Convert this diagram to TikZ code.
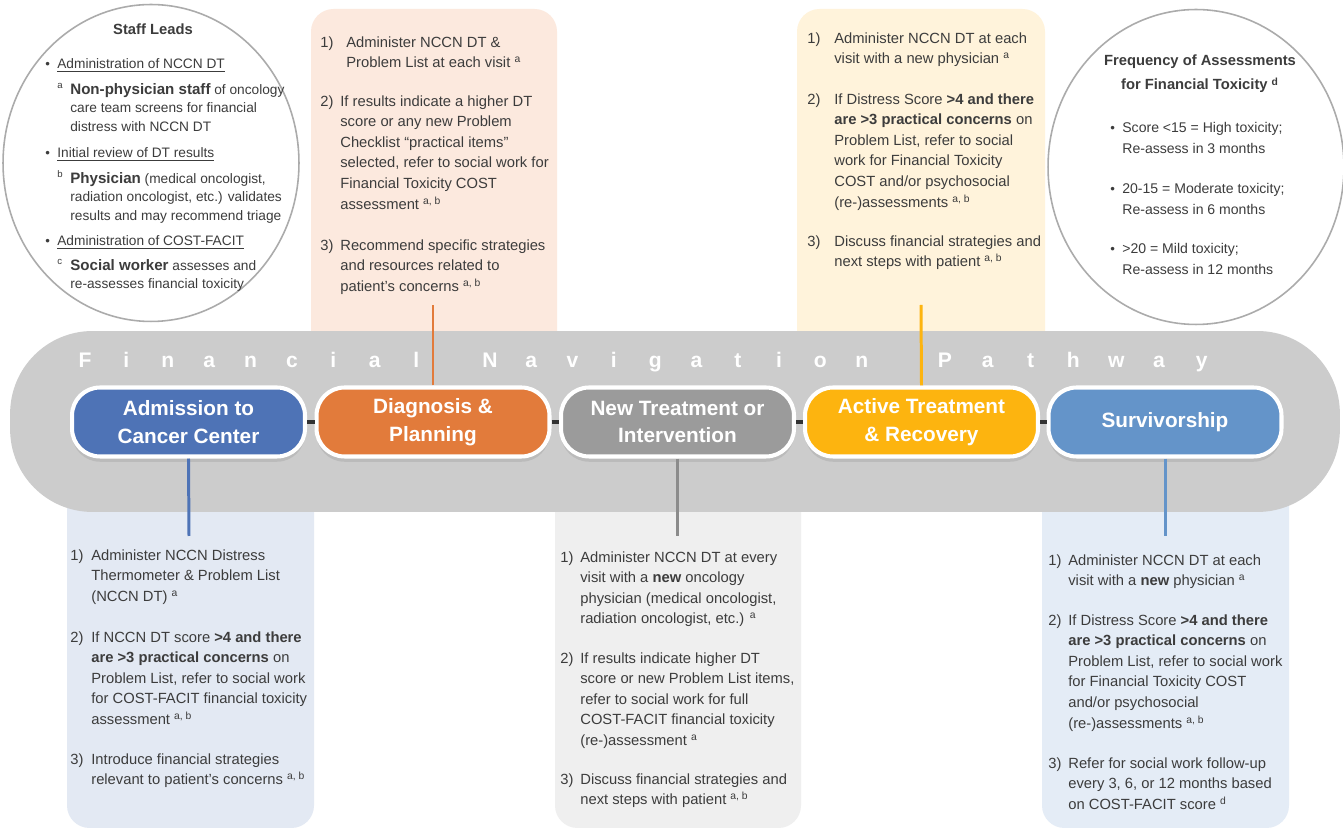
\documentclass[tikz,border=0pt]{standalone}
\usepackage{fontspec}
\setmainfont{Liberation Sans}
\usetikzlibrary{shapes.geometric,shadows}
\definecolor{txtc}{HTML}{3C3C3C}
\definecolor{bandc}{HTML}{CCCCCC}
\definecolor{admc}{HTML}{4E73B6}
\definecolor{diac}{HTML}{E27B3B}
\definecolor{newc}{HTML}{9B9B9B}
\definecolor{actc}{HTML}{FDB40F}
\definecolor{surc}{HTML}{6494C9}
\definecolor{diaf}{HTML}{FCE9DE}
\definecolor{actf}{HTML}{FFF3DB}
\definecolor{admf}{HTML}{E3E9F3}
\definecolor{newf}{HTML}{EFEFEF}
\definecolor{surf}{HTML}{E4ECF6}
\definecolor{ringc}{HTML}{ABABAB}
\definecolor{linkc}{HTML}{333333}
\begin{document}
\begin{tikzpicture}[x=0.02cm,y=-0.02cm,
  pbase/.style={anchor=north west, inner sep=0pt, align=left, text=txtc, execute at begin node=\strut},
  pbox/.style={pbase, font=\fontsize{8.4}{11.7}\selectfont, yshift=6.7pt},
  sbox/.style={pbase, font=\fontsize{7.8}{10.5}\selectfont, yshift=6.25pt},
  rbox/.style={pbase, font=\fontsize{8}{11.4}\selectfont, yshift=6.0pt},
  numb/.style={anchor=base west, inner sep=0pt, text=txtc, font=\fontsize{8.4}{11.7}\selectfont},
  sline/.style={anchor=base west, inner sep=0pt, text=txtc, font=\fontsize{7.8}{10.5}\selectfont},
  rline/.style={anchor=base west, inner sep=0pt, text=txtc, font=\fontsize{8}{11.4}\selectfont},
  bul/.style={anchor=base west, inner sep=0pt, text=txtc, font=\fontsize{7.5}{9}\selectfont},
  head/.style={anchor=base, inner sep=0pt, text=txtc, font=\fontsize{8.4}{11}\selectfont\bfseries},
  ring/.style={ellipse, draw=ringc, line width=0.9pt, fill=white, inner sep=0pt},
  stage/.style={rectangle, rounded corners=0.56cm, draw=white, line width=2.3pt,
    minimum width=4.66cm, minimum height=1.38cm, inner sep=0pt, align=center, text=white,
    font=\fontsize{11.8}{15.9}\selectfont\bfseries,
    drop shadow={shadow xshift=0pt, shadow yshift=-3pt, opacity=0.22}},
  link/.style={draw=linkc, line width=2.2pt},
  vline/.style={line width=1.7pt},
  ttl/.style={anchor=base, inner sep=0pt, text=white, font=\fontsize{12}{14}\selectfont\bfseries},
  box/.style={rounded corners=0.45cm}
]
\useasboundingbox (0,0) rectangle (1343,830);
\fill[white] (0,0) rectangle (1343,830);

% background panels
\fill[box, diaf] (311,9) rectangle (557,420);
\fill[box, actf] (797,9) rectangle (1045,420);
\fill[box, admf] (67,430) rectangle (314,828);
\fill[box, newf] (555,430) rectangle (801,828);
\fill[box, surf] (1042,430) rectangle (1289,828);

% band
\node[fill=bandc, rounded corners=1.65cm, minimum width=26.6cm, minimum height=3.62cm, inner sep=0pt] (band) at (675,421.5) {};

% title letters
\foreach \l [count=\k from 0] in {F,i,n,a,n,c,i,a,l}
  \node[ttl] (fa\k) at ({85+41.4*\k},368) {\l};
\foreach \l [count=\k from 0] in {N,a,v,i,g,a,t,i,o,n}
  \node[ttl] (na\k) at ({490+41.3*\k},368) {\l};
\foreach \l [count=\k from 0] in {P,a,t,h,w,a,y}
  \node[ttl] (pa\k) at ({945+42.8*\k},368) {\l};

% connector coordinates
\coordinate (diatop) at (433,305);
\coordinate (acttop) at (921,305);
\coordinate (admbot) at (189,536);
\coordinate (newbot) at (677.5,536);
\coordinate (surbot) at (1165,536);

% stages
\node[stage, fill=admc] (adm) at (188.5,422) {Admission to\\Cancer Center};
\node[stage, fill=diac] (dia) at (433,422) {Diagnosis \&\\Planning};
\node[stage, fill=newc] (new) at (677.5,422) {New Treatment or\\Intervention};
\node[stage, fill=actc] (act) at (921.5,422) {Active Treatment\\\& Recovery};
\node[stage, fill=surc] (sur) at (1165,422) {Survivorship};

\draw[link] (adm.east) -- (dia.west);
\draw[link] (dia.east) -- (new.west);
\draw[link] (new.east) -- (act.west);
\draw[link] (act.east) -- (sur.west);

\draw[vline, diac] (dia.north) -- (diatop);
\draw[vline, actc] (act.north) -- (acttop);
\draw[vline, admc] (adm.south) -- (admbot);
\draw[vline, newc!90!black] (new.south) -- (newbot);
\draw[vline, surc] (sur.south) -- (surbot);

% Staff leads circle
\node[ring, minimum width=5.92cm, minimum height=6.34cm] (staff) at (151,163) {};
\node[head] (sthead) at (153,35) {Staff Leads};
\node[bul] (sb1) at (45,69) {•};
\node[sline] (st1) at (57,69) {\underline{Administration of NCCN DT}};
\node[sline] (ss1) at (57,93) {\textsuperscript{a}};
\node[sbox] (sp1) at (70,94) {{\fontsize{8.6}{10.5}\selectfont\bfseries Non-physician staff} of oncology\\care team screens for financial\\distress with NCCN DT};
\node[bul] (sb2) at (45,158) {•};
\node[sline] (st2) at (57,158) {\underline{Initial review of DT results}};
\node[sline] (ss2) at (57,182) {\textsuperscript{b}};
\node[sbox] (sp2) at (70,183) {{\fontsize{8.6}{10.5}\selectfont\bfseries Physician} (medical oncologist,\\radiation oncologist, etc.) validates\\results and may recommend triage};
\node[bul] (sb3) at (45,246) {•};
\node[sline] (st3) at (57,246) {\underline{Administration of COST-FACIT}};
\node[sline] (ss3) at (57,269) {\textsuperscript{c}};
\node[sbox] (sp3) at (70,270) {{\fontsize{8.6}{10.5}\selectfont\bfseries Social worker} assesses and\\re-assesses financial toxicity};

% Frequency circle
\node[ring, minimum width=5.92cm, minimum height=6.3cm] (freq) at (1196,167) {};
\node[head] (fh1) at (1200,66) {Frequency of Assessments};
\node[head] (fh2) at (1200,90) {for Financial Toxicity \textsuperscript{d}};
\node[bul] (fb1) at (1110,133) {•};
\node[rbox] (fp1) at (1122,133) {Score <15 = High toxicity;\\Re-assess in 3 months};
\node[bul] (fb2) at (1110,194) {•};
\node[rbox] (fp2) at (1122,194) {20-15 = Moderate toxicity;\\Re-assess in 6 months};
\node[bul] (fb3) at (1110,254) {•};
\node[rbox] (fp3) at (1122,254) {>20 = Mild toxicity;\\Re-assess in 12 months};

% Diagnosis panel text
\node[numb] (dn1) at (320,48) {1)};
\node[pbox] (dp1) at (346,48) {Administer NCCN DT \&\\Problem List at each visit \textsuperscript{a}};
\node[numb] (dn2) at (320,107) {2)};
\node[pbox] (dp2) at (340,107) {If results indicate a higher DT\\score or any new Problem\\Checklist “practical items”\\selected, refer to social work for\\Financial Toxicity COST\\assessment \textsuperscript{a, b}};
\node[numb] (dn3) at (320,251) {3)};
\node[pbox] (dp3) at (340,251) {Recommend specific strategies\\and resources related to\\patient’s concerns \textsuperscript{a, b}};

% Active panel text
\node[numb] (an1) at (807,44) {1)};
\node[pbox] (ap1) at (834,44) {Administer NCCN DT at each\\visit with a new physician \textsuperscript{a}};
\node[numb] (an2) at (807,105) {2)};
\node[pbox] (ap2) at (834,105) {If Distress Score \textbf{>4 and there}\\\textbf{are >3 practical concerns} on\\Problem List, refer to social\\work for Financial Toxicity\\COST and/or psychosocial\\(re-)assessments \textsuperscript{a, b}};
\node[numb] (an3) at (807,247) {3)};
\node[pbox] (ap3) at (834,247) {Discuss financial strategies and\\next steps with patient \textsuperscript{a, b}};

% Admission panel text
\node[numb] (mn1) at (70,561) {1)};
\node[pbox] (mp1) at (91,561) {Administer NCCN Distress\\Thermometer \& Problem List\\(NCCN DT) \textsuperscript{a}};
\node[numb] (mn2) at (70,643) {2)};
\node[pbox] (mp2) at (91,643) {If NCCN DT score \textbf{>4 and there}\\\textbf{are >3 practical concerns} on\\Problem List, refer to social work\\for COST-FACIT financial toxicity\\assessment \textsuperscript{a, b}};
\node[numb] (mn3) at (70,765) {3)};
\node[pbox] (mp3) at (91,765) {Introduce financial strategies\\relevant to patient’s concerns \textsuperscript{a, b}};

% New treatment panel text
\node[numb] (nn1) at (560,563) {1)};
\node[pbox] (np1) at (580,563) {Administer NCCN DT at every\\visit with a \textbf{new} oncology\\physician (medical oncologist,\\radiation oncologist, etc.) \textsuperscript{a}};
\node[numb] (nn2) at (560,664) {2)};
\node[pbox] (np2) at (580,664) {If results indicate higher DT\\score or new Problem List items,\\refer to social work for full\\COST-FACIT financial toxicity\\(re-)assessment \textsuperscript{a}};
\node[numb] (nn3) at (560,785) {3)};
\node[pbox] (np3) at (580,785) {Discuss financial strategies and\\next steps with patient \textsuperscript{a, b}};

% Survivorship panel text
\node[numb] (un1) at (1048,566) {1)};
\node[pbox] (up1) at (1068,566) {Administer NCCN DT at each\\visit with a \textbf{new} physician \textsuperscript{a}};
\node[numb] (un2) at (1048,626) {2)};
\node[pbox] (up2) at (1068,626) {If Distress Score \textbf{>4 and there}\\\textbf{are >3 practical concerns} on\\Problem List, refer to social work\\for Financial Toxicity COST\\and/or psychosocial\\(re-)assessments \textsuperscript{a, b}};
\node[numb] (un3) at (1048,769) {3)};
\node[pbox] (up3) at (1068,769) {Refer for social work follow-up\\every 3, 6, or 12 months based\\on COST-FACIT score \textsuperscript{d}};
\end{tikzpicture}
\end{document}
